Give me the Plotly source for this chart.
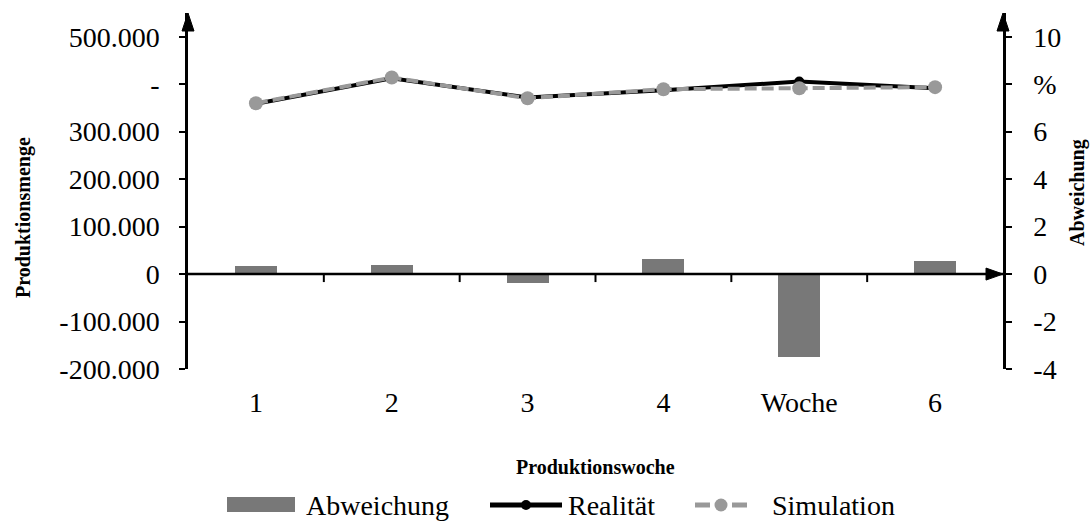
import plotly.graph_objects as go

# Weekly production volumes and relative deviation
weeks = ["1", "2", "3", "4", "Woche", "6"]
realitaet = [358800, 412500, 372000, 387000, 405500, 391600]
simulation = [360000, 414000, 370500, 389500, 391500, 393800]
abweichung = [0.34, 0.38, -0.39, 0.65, -3.49, 0.56]

left_tickvals = [-200000, -100000, 0, 100000, 200000, 300000, 400000, 500000]
left_ticktext = ["-200.000", "-100.000", "0", "100.000", "200.000", "300.000", "-", "500.000"]
right_tickvals = [-4, -2, 0, 2, 4, 6, 8, 10]
right_ticktext = ["-4", "-2", "0", "2", "4", "6", "%", "10"]

SERIF = "Liberation Serif"
W, H = 1091, 522
ML, MR, MT, MB = 188, 88, 13, 153
PW, PH = W - ML - MR, H - MT - MB

BAR_COLOR = "#787878"
SIM_COLOR = "#999999"


def px_x(x):
    return (x - ML) / PW


def px_y(y):
    return (H - MB - y) / PH


fig = go.Figure()

fig.add_trace(go.Bar(
    x=weeks, y=abweichung, name="Abweichung", yaxis="y2",
    width=0.31, marker=dict(color=BAR_COLOR, line=dict(width=0)),
))
fig.add_trace(go.Scatter(
    x=weeks, y=realitaet, name="Realität", mode="lines+markers",
    line=dict(color="black", width=4),
    marker=dict(color="black", size=10),
))
fig.add_trace(go.Scatter(
    x=weeks, y=simulation, name="Simulation", mode="lines+markers",
    line=dict(color=SIM_COLOR, width=4, dash="12px,5px"),
    marker=dict(color=SIM_COLOR, size=14),
))

axis_common = dict(
    showgrid=False, showline=True, linecolor="black", linewidth=2.5,
    ticks="outside", ticklen=6, tickwidth=2, tickcolor="black",
    tickfont=dict(family=SERIF, size=28, color="black"),
)

shapes = []
# horizontal category axis through zero
shapes.append(dict(type="line", xref="paper", x0=0, x1=1, yref="y", y0=0, y1=0,
                   line=dict(color="black", width=2.5), layer="above"))
# boundary ticks between categories
for i in range(len(weeks) - 1):
    shapes.append(dict(type="line", xref="x", x0=i + 0.5, x1=i + 0.5,
                       yref="y", ysizemode="pixel", yanchor=0, y0=0, y1=-8,
                       line=dict(color="black", width=2), layer="above"))
# arrow heads
arrow = dict(type="path", fillcolor="black", line=dict(color="black", width=1),
             xsizemode="pixel", ysizemode="pixel", layer="above")
shapes.append(dict(arrow, xref="paper", xanchor=0, yref="paper", yanchor=1,
                   path="M -6,-18 L 0,0 L 6,-18 Z"))
shapes.append(dict(arrow, xref="paper", xanchor=1, yref="paper", yanchor=1,
                   path="M -6,-18 L 0,0 L 6,-18 Z"))
shapes.append(dict(arrow, xref="paper", xanchor=1, yref="y", yanchor=0,
                   path="M -17,6 L 0,0 L -17,-6 Z"))

# legend row (symbols drawn as shapes, labels as annotations)
LEG_Y = px_y(505)
leg = dict(xref="paper", yref="paper", xanchor=0, yanchor=LEG_Y,
           xsizemode="pixel", ysizemode="pixel")
bar_x0 = px_x(227)
shapes.append(dict(leg, type="rect", xanchor=bar_x0, x0=0, x1=68, y0=-7, y1=8,
                   fillcolor=BAR_COLOR, line=dict(width=0)))
real_x0 = px_x(490)
shapes.append(dict(leg, type="line", xanchor=real_x0, x0=0, x1=72, y0=0, y1=0,
                   line=dict(color="black", width=5)))
shapes.append(dict(leg, type="circle", xanchor=real_x0, x0=31, x1=41, y0=-5, y1=5,
                   fillcolor="black", line=dict(width=0)))
sim_x0 = px_x(695)
shapes.append(dict(leg, type="line", xanchor=sim_x0, x0=0, x1=15, y0=0, y1=0,
                   line=dict(color=SIM_COLOR, width=5)))
shapes.append(dict(leg, type="line", xanchor=sim_x0, x0=37, x1=52, y0=0, y1=0,
                   line=dict(color=SIM_COLOR, width=5)))
shapes.append(dict(leg, type="circle", xanchor=sim_x0, x0=19.5, x1=32.5, y0=-6.5, y1=6.5,
                   fillcolor=SIM_COLOR, line=dict(width=0)))

title_font = dict(family=SERIF, size=20, color="black")
leg_font = dict(family=SERIF, size=28, color="black")
centered = dict(xref="paper", yref="paper", xanchor="center", yanchor="middle",
                showarrow=False)
annotations = [
    dict(centered, text="<b>Produktionsmenge</b>", x=px_x(23), y=px_y(218),
         textangle=-90, font=title_font),
    dict(centered, text="<b>Abweichung</b>", x=px_x(1077), y=px_y(193),
         textangle=-90, font=title_font),
    dict(centered, text="<b>Produktionswoche</b>", x=0.5, y=px_y(467),
         font=title_font),
]
for label, lx in [("Abweichung", 304), ("Realität", 566), ("Simulation", 770)]:
    annotations.append(dict(text=label, xref="paper", yref="paper",
                            x=px_x(lx), y=LEG_Y, xanchor="left", yanchor="middle",
                            showarrow=False, font=leg_font))

fig.update_layout(
    width=W, height=H,
    margin=dict(l=ML, r=MR, t=MT, b=MB, pad=0, autoexpand=False),
    paper_bgcolor="white", plot_bgcolor="white",
    font=dict(family=SERIF, color="black"),
    showlegend=False,
    bargap=0,
    xaxis=dict(type="category", showline=False, ticks="", showgrid=False,
               zeroline=False, ticklabelstandoff=14,
               tickfont=dict(family=SERIF, size=28, color="black")),
    yaxis=dict(axis_common, range=[-200000, 550000], tickvals=left_tickvals,
               ticktext=left_ticktext, zeroline=False, ticklabelstandoff=14),
    yaxis2=dict(axis_common, range=[-4, 11], tickvals=right_tickvals,
                ticktext=right_ticktext, overlaying="y", side="right",
                zeroline=False, ticklabelstandoff=16),
    shapes=shapes,
    annotations=annotations,
)

fig.write_html("out.html")
